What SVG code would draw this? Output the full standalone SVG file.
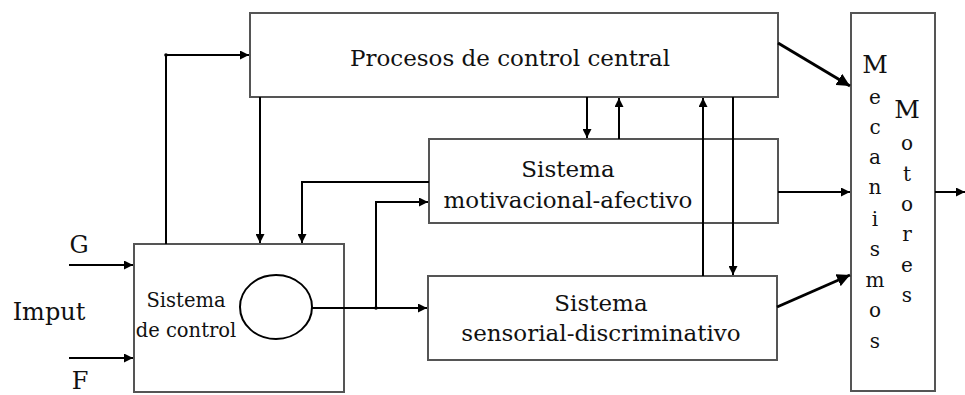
<svg xmlns="http://www.w3.org/2000/svg" width="965" height="395" viewBox="0 0 965 395">
  <defs>
    <style>
      .box { fill: #ffffff; stroke: #555555; stroke-width: 2; }
      .line { fill: none; stroke: #000000; stroke-width: 2; }
      .thick { fill: none; stroke: #000000; stroke-width: 3; }
      text { font-family: "DejaVu Serif", "Liberation Serif", serif; fill: #111111; text-anchor: middle; }
      .big { font-size: 23px; }
      .lbl { font-size: 24px; }
      .mid { font-size: 19.5px; }
      .col { font-size: 20px; }
      .cap { font-size: 25px; }
    </style>
    <marker id="arrow" viewBox="0 0 10 10" refX="10" refY="5" markerWidth="9" markerHeight="9" markerUnits="userSpaceOnUse" orient="auto">
      <path d="M0,0 L10,5 L0,10 z" fill="#000000"/>
    </marker>
    <marker id="arrowL" viewBox="0 0 10 10" refX="10" refY="5" markerWidth="13" markerHeight="13" markerUnits="userSpaceOnUse" orient="auto">
      <path d="M0,0 L10,5 L0,10 z" fill="#000000"/>
    </marker>
  </defs>
  <rect width="965" height="395" fill="#ffffff"/>

  <!-- Procesos de control central -->
  <g id="central">
    <rect class="box" x="250" y="13" width="528" height="84"/>
    <text class="big" x="510" y="66">Procesos de control central</text>
  </g>

  <!-- Sistema motivacional-afectivo -->
  <g id="motivacional">
    <rect class="box" x="429" y="139" width="349" height="84"/>
    <text class="big" x="568" y="177">Sistema</text>
    <text class="big" x="568" y="208">motivacional-afectivo</text>
  </g>

  <!-- Sistema sensorial-discriminativo -->
  <g id="sensorial">
    <rect class="box" x="428" y="276" width="349" height="84"/>
    <text class="big" x="601" y="311">Sistema</text>
    <text class="big" x="601" y="341">sensorial-discriminativo</text>
  </g>

  <!-- Sistema de control -->
  <g id="control">
    <rect class="box" x="134" y="244" width="210" height="148"/>
    <ellipse class="line" cx="276" cy="307" rx="36" ry="32"/>
    <text class="mid" x="186" y="307">Sistema</text>
    <text class="mid" x="186" y="337">de control</text>
  </g>

  <!-- Mecanismos Motores, written one letter per line -->
  <g id="motores">
    <rect class="box" x="851" y="13" width="84" height="378"/>
    <text class="cap" x="875" y="73">M</text>
    <text class="col" x="875" y="104">e</text>
    <text class="col" x="875" y="134">c</text>
    <text class="col" x="875" y="164">a</text>
    <text class="col" x="875" y="194">n</text>
    <text class="col" x="875" y="226">i</text>
    <text class="col" x="875" y="256">s</text>
    <text class="col" x="875" y="287">m</text>
    <text class="col" x="875" y="317">o</text>
    <text class="col" x="875" y="348">s</text>
    <text class="cap" x="907" y="118">M</text>
    <text class="col" x="907" y="150">o</text>
    <text class="col" x="907" y="181">t</text>
    <text class="col" x="907" y="211">o</text>
    <text class="col" x="907" y="241">r</text>
    <text class="col" x="907" y="272">e</text>
    <text class="col" x="907" y="302">s</text>
  </g>

  <!-- Input labels -->
  <g id="inputs">
    <text class="lbl" x="79" y="253">G</text>
    <text class="lbl" x="49" y="320">Imput</text>
    <text class="lbl" x="80" y="389">F</text>
  </g>

  <!-- Connectors -->
  <g id="connectors">
    <path class="line" d="M69,265 H133" marker-end="url(#arrow)"/>
    <path class="line" d="M69,358 H133" marker-end="url(#arrow)"/>
    <path class="line" d="M166,244 V55 H249" marker-end="url(#arrow)"/>
    <circle cx="166" cy="55" r="1.8" fill="#000"/>
    <path class="line" d="M260,97 V243" marker-end="url(#arrow)"/>
    <path class="line" d="M429,182 H302 V243" marker-end="url(#arrow)"/>
    <path class="line" d="M312,308 H427" marker-end="url(#arrow)"/>
    <path class="line" d="M376,308 V202 H428" marker-end="url(#arrow)"/>
    <circle cx="376" cy="308" r="1.8" fill="#000"/>
    <path class="line" d="M587,97 V138" marker-end="url(#arrow)"/>
    <path class="line" d="M619,139 V98" marker-end="url(#arrow)"/>
    <path class="line" d="M703,276 V98" marker-end="url(#arrow)"/>
    <path class="line" d="M733,97 V275" marker-end="url(#arrow)"/>
    <path class="thick" d="M778,43 L850,86" marker-end="url(#arrowL)"/>
    <path class="line" d="M778,192 H850" marker-end="url(#arrow)"/>
    <path class="thick" d="M777,307 L850,275" marker-end="url(#arrowL)"/>
    <path class="line" d="M935,192 H965" marker-end="url(#arrow)"/>
  </g>
</svg>
